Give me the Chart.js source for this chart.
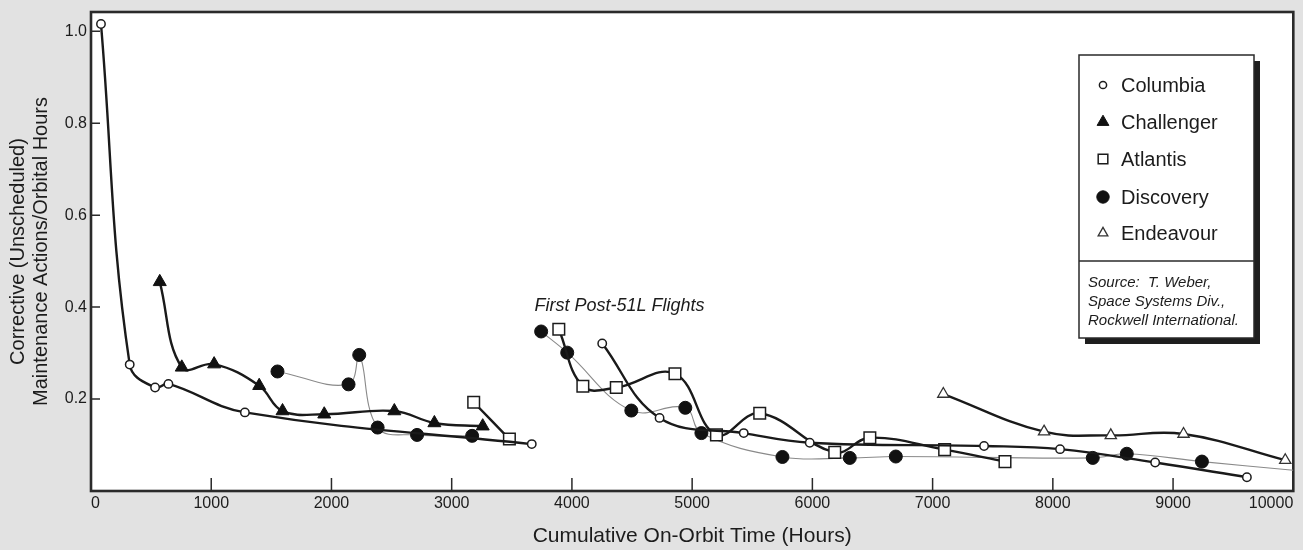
<!DOCTYPE html>
<html><head><meta charset="utf-8">
<script src="https://cdn.jsdelivr.net/npm/chart.js@4.4.0/dist/chart.umd.min.js"></script>
<style>html,body{margin:0;padding:0;background:#e2e2e2;}canvas{display:block;}</style>
</head><body>
<canvas id="c" width="1303" height="550"></canvas>
<script>
// ---- data ----
const columbiaPreHours  = [83, 322, 533, 644, 1280, 3666];
const columbiaPreRate   = [1.016, 0.275, 0.225, 0.233, 0.171, 0.102];
const columbiaPostHours = [4252, 4729, 5429, 5978, 7428, 8060, 8851, 9614];
const columbiaPostRate  = [0.321, 0.159, 0.126, 0.105, 0.098, 0.091, 0.062, 0.030];

const challengerHours = [572, 755, 1024, 1399, 1593, 1940, 2523, 2856, 3258];
const challengerRate  = [0.455, 0.269, 0.276, 0.229, 0.174, 0.167, 0.174, 0.148, 0.141];

const atlantisPreHours  = [3183, 3480];
const atlantisPreRate   = [0.193, 0.113];
const atlantisPostHours = [3891, 4091, 4369, 4857, 5202, 5562, 6186, 6478, 7100, 7602];
const atlantisPostRate  = [0.352, 0.228, 0.225, 0.255, 0.122, 0.169, 0.084, 0.116, 0.090, 0.064];

const discoveryPreHours  = [1551, 2142, 2231, 2384, 2712, 3170];
const discoveryPreRate   = [0.260, 0.232, 0.296, 0.138, 0.122, 0.120];
const discoveryPostHours = [3744, 3961, 4494, 4943, 5077, 5751, 6311, 6694, 8332, 8615, 9240, 10000];
const discoveryPostRate  = [0.347, 0.301, 0.175, 0.181, 0.126, 0.074, 0.072, 0.075, 0.072, 0.081, 0.064, 0.045];

const endeavourHours = [7089, 7927, 8482, 9087, 9933];
const endeavourRate  = [0.211, 0.129, 0.121, 0.124, 0.067];

const orbiterNames = ['Columbia', 'Challenger', 'Atlantis', 'Discovery', 'Endeavour'];
const sourceLines = ['Source:  T. Weber,', 'Space Systems Div.,', 'Rockwell International.'];
const annotationText = 'First Post-51L Flights';
const annotationAt = {x: 3689, y: 0.403};
const xAxisTitle = 'Cumulative On-Orbit Time (Hours)';
const yAxisTitle = ['Corrective (Unscheduled)', 'Maintenance Actions/Orbital Hours'];

// ---- helpers ----
const pts = (xs, ys) => xs.map((x, i) => ({x, y: ys[i]}));
const joinGap = (a, b) => a.concat([{x: a[a.length - 1].x, y: null}], b);

const FONT = '"Liberation Sans", Arial, Helvetica, sans-serif';
const INK = '#1c1c1c';

const styles = [
  {pointStyle: 'circle',   radius: 4.2, fill: '#ffffff', stroke: INK, bw: 1.5},
  {pointStyle: 'triangle', radius: 7.5, fill: '#111111', stroke: '#111111', bw: 1},
  {pointStyle: 'rect',     radius: 8.2, fill: '#ffffff', stroke: INK, bw: 1.5},
  {pointStyle: 'circle',   radius: 6.5, fill: '#111111', stroke: '#111111', bw: 1},
  {pointStyle: 'triangle', radius: 6.5, fill: '#ffffff', stroke: '#333333', bw: 1.3}
];

function ds(label, data, st, lineColor, lineWidth, extra) {
  return Object.assign({
    label, data,
    borderColor: lineColor, borderWidth: lineWidth,
    tension: 0.4, spanGaps: false, fill: false,
    pointStyle: st.pointStyle, pointRadius: st.radius,
    pointBackgroundColor: st.fill, pointBorderColor: st.stroke, pointBorderWidth: st.bw,
    pointHoverRadius: st.radius
  }, extra || {});
}

const datasets = [
  ds(orbiterNames[0], joinGap(pts(columbiaPreHours, columbiaPreRate), pts(columbiaPostHours, columbiaPostRate)), styles[0], '#1a1a1a', 2.4),
  ds(orbiterNames[1], pts(challengerHours, challengerRate), styles[1], '#1a1a1a', 2.4),
  ds(orbiterNames[2], joinGap(pts(atlantisPreHours, atlantisPreRate), pts(atlantisPostHours, atlantisPostRate)), styles[2], '#1a1a1a', 2.4),
  ds(orbiterNames[3], joinGap(pts(discoveryPreHours, discoveryPreRate), pts(discoveryPostHours, discoveryPostRate)), styles[3], '#8a8a8a', 1.1,
     {pointRadius: c => (c.raw && c.raw.x >= 10000) ? 0 : styles[3].radius}),
  ds(orbiterNames[4], pts(endeavourHours, endeavourRate), styles[4], '#1a1a1a', 2.4)
];

const paperPlugin = {
  id: 'paper',
  beforeDraw(chart) {
    const {ctx, chartArea: a} = chart;
    ctx.save();
    ctx.fillStyle = '#e2e2e2';
    ctx.fillRect(0, 0, chart.width, chart.height);
    ctx.fillStyle = '#ffffff';
    ctx.fillRect(a.left, a.top, a.right - a.left, a.bottom - a.top);
    ctx.restore();
  },
  beforeDatasetsDraw(chart) {
    const {ctx, chartArea: a, scales: {x, y}} = chart;
    ctx.save();
    ctx.strokeStyle = '#2a2a2a';
    ctx.lineWidth = 2.6;
    ctx.strokeRect(a.left, a.top, a.right - a.left, a.bottom - a.top);
    ctx.lineWidth = 1.5;
    ctx.beginPath();
    x.ticks.forEach(t => {
      if (t.value > x.min && t.value < x.max) {
        const px = x.getPixelForValue(t.value);
        ctx.moveTo(px, a.bottom); ctx.lineTo(px, a.bottom - 13);
      }
    });
    y.ticks.forEach(t => {
      if (t.value > 0) {
        const py = y.getPixelForValue(t.value);
        ctx.moveTo(a.left, py); ctx.lineTo(a.left + 9, py);
      }
    });
    ctx.stroke();
    ctx.restore();
  },
  afterDraw(chart) {
    const {ctx, scales: {x, y}} = chart;
    ctx.save();
    // annotation
    ctx.fillStyle = INK;
    ctx.font = 'italic 18px ' + FONT;
    ctx.textAlign = 'left';
    ctx.textBaseline = 'middle';
    ctx.fillText(annotationText, x.getPixelForValue(annotationAt.x), y.getPixelForValue(annotationAt.y));

    // legend box
    const L = 1079, T = 55, R = 1254, B = 338, divY = 261;
    ctx.fillStyle = '#1e1e1e';
    ctx.fillRect(L + 6, T + 6, R - L, B - T);
    ctx.fillStyle = '#ffffff';
    ctx.fillRect(L, T, R - L, B - T);
    ctx.strokeStyle = '#2a2a2a';
    ctx.lineWidth = 1.5;
    ctx.strokeRect(L, T, R - L, B - T);
    ctx.beginPath();
    ctx.moveTo(L, divY); ctx.lineTo(R, divY);
    ctx.stroke();

    const rowsY = [85, 122, 159, 197, 233];
    const legendRadius = [3.6, 6.8, 6.8, 6.2, 5.6];
    orbiterNames.forEach((name, i) => {
      const st = styles[i];
      ctx.fillStyle = st.fill;
      ctx.strokeStyle = st.stroke;
      ctx.lineWidth = st.bw;
      Chart.helpers.drawPoint(ctx, {pointStyle: st.pointStyle, radius: legendRadius[i], rotation: 0, borderWidth: st.bw}, 1103, rowsY[i]);
      ctx.fillStyle = INK;
      ctx.font = '20px ' + FONT;
      ctx.textAlign = 'left';
      ctx.textBaseline = 'middle';
      ctx.fillText(name, 1121, rowsY[i] + 1);
    });
    ctx.font = 'italic 15px ' + FONT;
    ctx.fillStyle = INK;
    const srcY = [283, 302, 321];
    sourceLines.forEach((s, i) => ctx.fillText(s, 1088, srcY[i]));
    ctx.restore();
  }
};

new Chart(document.getElementById('c'), {
  type: 'line',
  data: {datasets},
  plugins: [paperPlugin],
  options: {
    responsive: false,
    animation: false,
    layout: {padding: {top: 12, right: 8, left: 0, bottom: 0}},
    plugins: {legend: {display: false}, tooltip: {enabled: false}},
    scales: {
      x: {
        type: 'linear', min: 0, max: 10000,
        grid: {display: false, drawTicks: false},
        border: {display: false},
        ticks: {stepSize: 1000, align: 'inner', maxRotation: 0, autoSkip: false, padding: 3,
                color: INK, font: {family: FONT, size: 16}, callback: v => String(v)},
        title: {display: true, text: xAxisTitle, color: INK, font: {family: FONT, size: 21}, padding: {top: 0, bottom: 1}},
        afterFit(s) { s.height = 59; s.paddingLeft = 0; s.paddingRight = 0; }
      },
      y: {
        type: 'linear', min: 0, max: 1.042,
        grid: {display: false, drawTicks: false},
        border: {display: false},
        ticks: {stepSize: 0.2, includeBounds: false, padding: 4, color: INK, font: {family: FONT, size: 16},
                callback: v => (Math.abs(v) < 1e-9 ? '' : Number(v).toFixed(1))},
        title: {display: true, text: yAxisTitle, color: INK, font: {family: FONT, size: 20, lineHeight: 1.15}, padding: {top: 7, bottom: 0}},
        afterFit(s) { s.width = 91; s.paddingTop = 0; s.paddingBottom = 0; }
      }
    }
  }
});
</script>
</body></html>
